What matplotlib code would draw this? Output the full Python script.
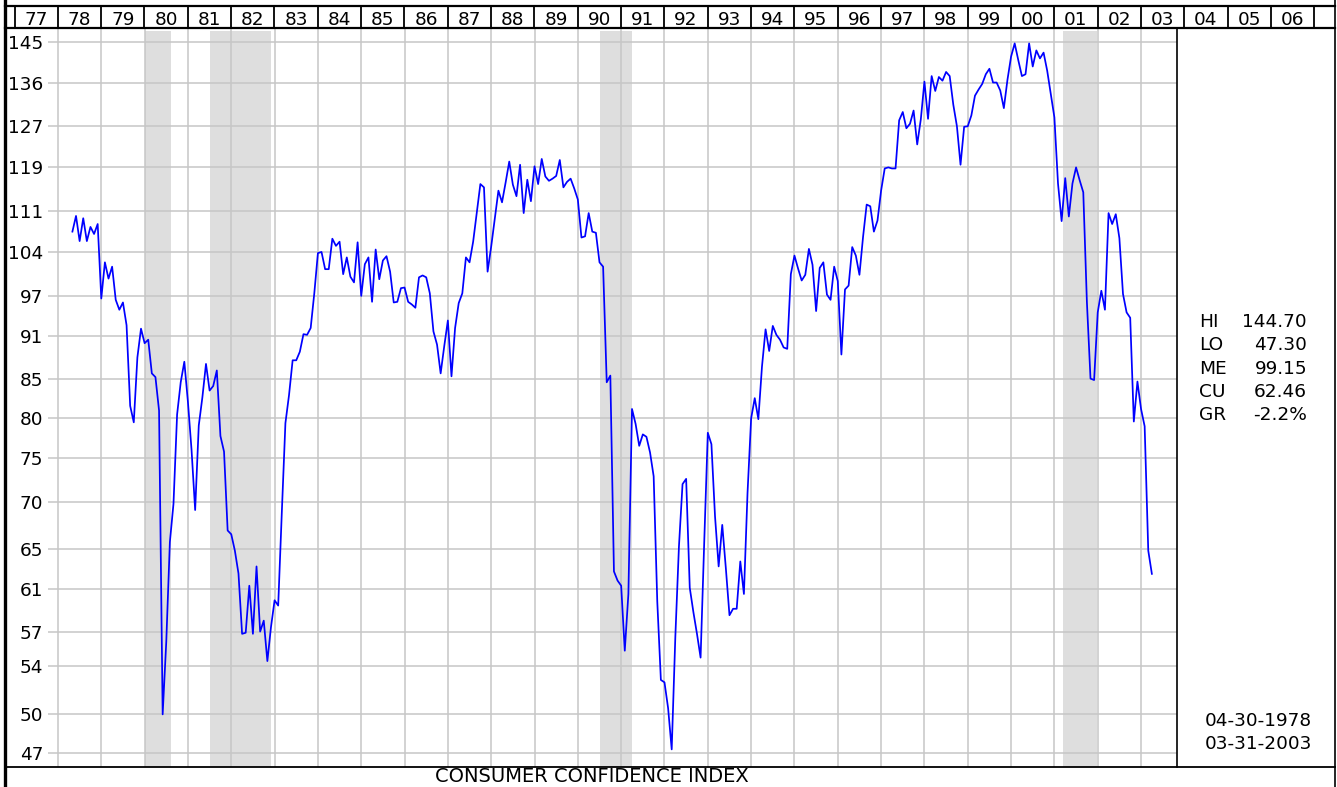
import numpy as np
import matplotlib

matplotlib.use("Agg")
import matplotlib.pyplot as plt
from matplotlib.lines import Line2D

plt.rcParams["font.family"] = ["DejaVu Sans"]

# Consumer Confidence Index, month-end values, Apr 1978 .. Mar 2003
start_year, start_month = 1978, 4
cci = [
    # 1978 (Apr-Dec)
    107.4, 110.1, 105.8, 109.7, 105.8, 108.2, 107.0, 108.7, 96.6,
    # 1979
    102.3, 99.7, 101.6, 96.4, 94.9, 96.0, 92.6, 81.5, 79.4, 88.0, 92.1, 90.0,
    # 1980
    90.5, 85.8, 85.3, 80.9, 50.0, 56.1, 65.7, 69.8, 80.4, 84.6, 87.4, 82.0,
    # 1981
    76.0, 69.1, 79.0, 82.6, 87.1, 83.5, 84.1, 86.2, 77.7, 75.8, 66.9, 66.5,
    # 1982
    64.8, 62.5, 56.8, 56.9, 61.3, 56.8, 63.2, 57.0, 58.0, 54.4, 57.4, 59.9,
    # 1983
    59.4, 68.8, 79.3, 82.9, 87.6, 87.6, 88.8, 91.3, 91.2, 92.2, 97.4, 103.8,
    # 1984
    104.0, 101.2, 101.2, 106.2, 105.0, 105.7, 100.4, 103.1, 100.0, 99.1, 105.6, 97.0,
    # 1985
    102.0, 103.1, 96.1, 104.4, 99.6, 102.6, 103.3, 100.8, 96.0, 96.1, 98.2, 98.3,
    # 1986
    96.1, 95.7, 95.2, 99.9, 100.2, 99.9, 97.4, 91.7, 89.8, 85.8, 89.6, 93.3,
    # 1987
    85.4, 92.2, 95.9, 97.4, 103.1, 102.3, 105.7, 110.7, 115.8, 115.2, 100.8, 104.9,
    # 1988
    109.7, 114.6, 112.5, 116.1, 120.0, 115.7, 113.6, 119.4, 110.6, 116.6, 112.7, 119.1,
    # 1989
    115.8, 120.5, 117.2, 116.4, 116.8, 117.3, 120.3, 115.2, 116.2, 116.8, 115.0, 113.0,
    # 1990
    106.4, 106.6, 110.6, 107.4, 107.2, 102.3, 101.6, 84.6, 85.5, 62.7, 61.8, 61.3,
    # 1991
    55.3, 60.5, 81.1, 79.2, 76.5, 77.9, 77.6, 75.7, 72.9, 59.8, 52.8, 52.6,
    # 1992
    50.5, 47.3, 56.5, 65.2, 72.0, 72.6, 61.1, 58.8, 56.8, 54.7, 65.6, 78.1,
    # 1993
    76.7, 68.4, 63.2, 67.5, 63.0, 58.5, 59.1, 59.1, 63.7, 60.5, 71.0, 79.9,
    # 1994
    82.5, 79.8, 86.7, 92.0, 88.9, 92.5, 91.2, 90.5, 89.4, 89.2, 100.4, 103.4,
    # 1995
    101.3, 99.4, 100.3, 104.5, 101.9, 94.7, 101.4, 102.3, 97.2, 96.4, 101.6, 99.3,
    # 1996
    88.4, 98.0, 98.6, 104.8, 103.4, 100.3, 106.5, 112.1, 111.8, 107.4, 109.3, 114.6,
    # 1997
    118.7, 118.9, 118.7, 118.7, 128.1, 129.8, 126.5, 127.4, 130.1, 123.3, 128.3, 136.2,
    # 1998
    128.4, 137.4, 134.2, 137.2, 136.4, 138.3, 137.4, 131.3, 126.9, 119.4, 126.8, 126.9,
    # 1999
    129.1, 133.2, 134.5, 135.7, 137.8, 139.0, 136.0, 136.0, 134.3, 130.6, 136.6, 141.7,
    # 2000
    144.7, 140.9, 137.4, 137.8, 144.7, 139.5, 143.1, 141.3, 142.6, 138.6, 133.5, 128.7,
    # 2001
    115.9, 109.2, 116.9, 110.0, 115.9, 118.9, 116.5, 114.3, 96.1, 85.1, 84.9, 94.5,
    # 2002
    97.8, 94.9, 110.6, 108.7, 110.4, 106.3, 97.3, 94.5, 93.7, 79.5, 84.7, 81.1,
    # 2003 (Jan-Mar)
    78.9, 64.8, 62.46,
]

# recessions (fractional years)
recessions = [(1980.0, 1980.6), (1981.5, 1982.92), (1990.5, 1991.25), (2001.2, 2001.98)]

y_ticks = [47, 50, 54, 57, 61, 65, 70, 75, 80, 85, 91, 97, 104, 111, 119, 127, 136, 145]
header_years = list(range(1977, 2007))
grid_years = list(range(1978, 2004))

stat_labels = ["HI", "LO", "ME", "CU", "GR"]
stat_values = ["144.70", "47.30", "99.15", "62.46", "-2.2%"]
date_range = ["04-30-1978", "03-31-2003"]
title = "CONSUMER CONFIDENCE INDEX"

W, H = 1337, 787
FS = 13.3


def fx(px):
    return px / W


def fy(py):
    return 1 - py / H


fig = plt.figure(figsize=(W / 100, H / 100), dpi=100)
fig.patch.set_facecolor("white")

# ---- main chart
ax = fig.add_axes([fx(48), fy(767), (1177 - 48) / W, (767 - 28.3) / H])
x = start_year + (start_month + np.arange(len(cci))) / 12
for a, b in recessions:
    ax.axvspan(a, b, ymax=0.996, color="#dedede", lw=0)
ax.plot(x, cci, color="#0000ff", lw=1.25, zorder=3)

ax.set_xlim(1977.77, 2003.83)
ax.set_yscale("log")
ax.set_ylim(46.0, 148.2)
ax.set_yticks(y_ticks, [str(t) for t in y_ticks])
ax.minorticks_off()
ax.set_xticks(grid_years)
ax.tick_params(length=0, labelbottom=False, labelsize=FS, pad=3.5,
               labelcolor="black")
ax.grid(True, color="#c6c6c6", lw=1.1)
for s in ("left", "top", "bottom"):
    ax.spines[s].set_visible(False)
ax.spines["right"].set_linewidth(1.2)

# ---- year header
hx = fig.add_axes([fx(5), fy(28.3), (1335 - 5) / W, (28.3 - 6) / H])
hx.set_xlim(1976.78, 2007.48)
hx.set_ylim(0, 1)
hx.set_xticks([])
hx.set_yticks([])
for s in ("left", "right"):
    hx.spines[s].set_visible(False)
for s in ("top", "bottom"):
    hx.spines[s].set_linewidth(1.6)
for yv in header_years + [header_years[-1] + 1]:
    hx.axvline(yv, color="black", lw=1.3)
for yv in header_years:
    hx.text(yv + 0.5, 0.44, f"{yv % 100:02d}", ha="center",
            va="center_baseline", fontsize=FS)

# ---- frame
frame = [((5, 5), (0, H), 2.4), ((1335, 1335), (0, H), 1.2),
         ((5, 1335), (767, 767), 1.3)]
for xs, ys, lw in frame:
    fig.add_artist(Line2D([fx(v) for v in xs], [fy(v) for v in ys],
                          color="black", lw=lw))

# ---- stats panel
for i, (lab, val) in enumerate(zip(stat_labels, stat_values)):
    yy = fy(320 + i * 23.3)
    fig.text(fx(1199), yy, lab, ha="left", va="center_baseline", fontsize=FS)
    fig.text(fx(1307), yy, val, ha="right", va="center_baseline", fontsize=FS)
for i, d in enumerate(date_range):
    fig.text(fx(1258), fy(718.5 + i * 23.2), d, ha="center",
             va="center_baseline", fontsize=FS)

fig.text(fx(592), fy(786.5), title, ha="center", va="bottom", fontsize=14)

fig.savefig("out.png", dpi=100, facecolor="white")
